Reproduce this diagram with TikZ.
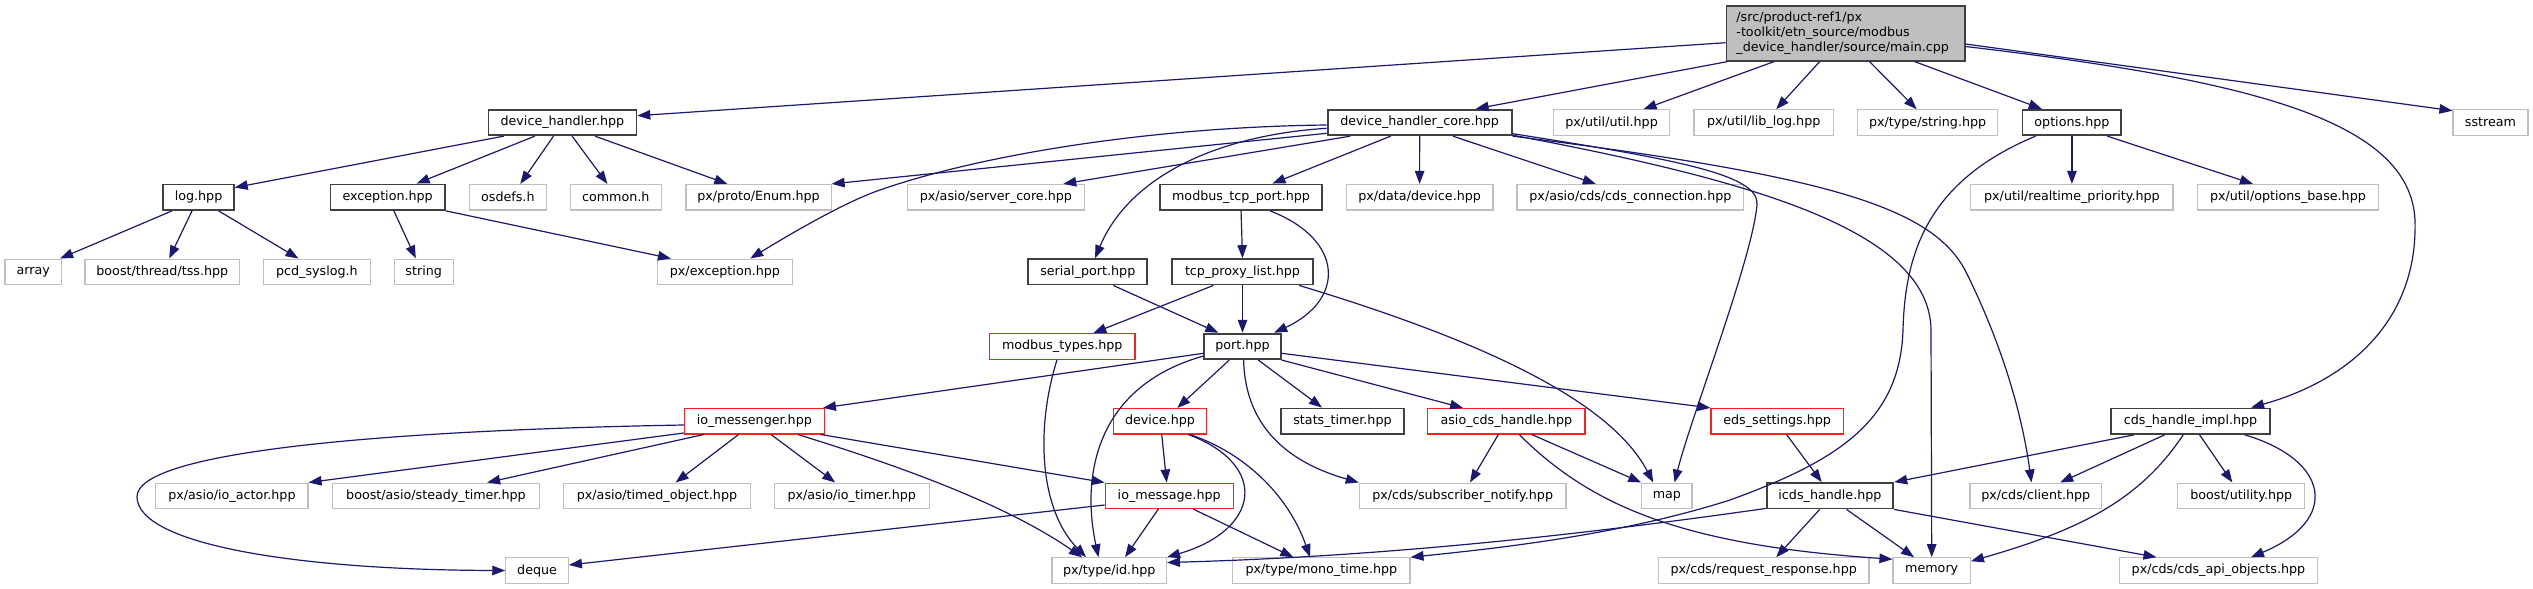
\documentclass[tikz,border=0pt]{standalone}
\usepackage{fontspec}
\setmainfont{DejaVu Sans}
\usetikzlibrary{arrows.meta}
\definecolor{edgeblue}{HTML}{191970}
\definecolor{docgray}{HTML}{BFBFBF}
\definecolor{docred}{HTML}{FF2020}
\definecolor{docblack}{HTML}{404040}
\newcommand\dxfont{\fontsize{12.7}{14.6}\selectfont}
\tikzset{
  base/.style={rectangle, minimum height=25.5pt, inner sep=0pt, font=\dxfont, fill=white, line width=1.1pt},
  blk/.style={base, draw=docblack, line width=1.8pt},
  gry/.style={base, draw=docgray},
  redb/.style={base, draw=docred},
  e/.style={draw=edgeblue, line width=1.2pt, -{Triangle[length=13pt,width=9.5pt]}},
}
\begin{document}
\begin{tikzpicture}[x=1pt,y=-1pt]
\fill[white] (0,0) rectangle (2533,589);
\useasboundingbox (0,0) rectangle (2533,589);
% row 0
\node[base, draw=docblack, fill=docgray, line width=1.8pt, minimum width=238.2pt, minimum height=55pt, text width=218.2pt, align=left, inner xsep=10pt] (main) at (1845.5,33.2) {/src/product-ref1/px\\-toolkit/etn\_source/modbus\\\_device\_handler/source/main.cpp};
% row 1
\node[blk, minimum width=148pt] (dh) at (562.4,122.5) {device\_handler.hpp};
\node[blk, minimum width=184.1pt] (dhc) at (1419.65,122.5) {device\_handler\_core.hpp};
\node[gry, minimum width=116.1pt] (util) at (1611.55,122.5) {px/util/util.hpp};
\node[gry, minimum width=139.4pt] (liblog) at (1763.7,122.5) {px/util/lib\_log.hpp};
\node[gry, minimum width=140.4pt] (tstring) at (1927.6,122.5) {px/type/string.hpp};
\node[blk, minimum width=98.8pt] (options) at (2071.9,122.5) {options.hpp};
\node[gry, minimum width=75pt] (sstream) at (2490.5,122.5) {sstream};
% row 2
\node[blk, minimum width=70.5pt] (log) at (198.55,197.2) {log.hpp};
\node[blk, minimum width=114.5pt] (exc) at (387.65,197.2) {exception.hpp};
\node[gry, minimum width=77.1pt] (osdefs) at (507.85,197.2) {osdefs.h};
\node[gry, minimum width=90.6pt] (common) at (615.8,197.2) {common.h};
\node[gry, minimum width=145.1pt] (enum) at (758.55,197.2) {px/proto/Enum.hpp};
\node[gry, minimum width=177pt] (servercore) at (995.9,197.2) {px/asio/server\_core.hpp};
\node[blk, minimum width=162.3pt] (mtcp) at (1241.05,197.2) {modbus\_tcp\_port.hpp};
\node[gry, minimum width=146.8pt] (datadev) at (1419.6,197.2) {px/data/device.hpp};
\node[gry, minimum width=226.8pt] (cdsconn) at (1630.4,197.2) {px/asio/cds/cds\_connection.hpp};
\node[gry, minimum width=202.2pt] (rtprio) at (2071.9,197.2) {px/util/realtime\_priority.hpp};
\node[gry, minimum width=180.9pt] (optbase) at (2287.95,197.2) {px/util/options\_base.hpp};
% row 3
\node[gry, minimum width=56.4pt] (array) at (33.2,271.8) {array};
\node[gry, minimum width=154.6pt] (tss) at (162.3,271.8) {boost/thread/tss.hpp};
\node[gry, minimum width=106.5pt] (syslog) at (316.95,271.8) {pcd\_syslog.h};
\node[gry, minimum width=58.8pt] (string) at (423.7,271.8) {string};
\node[gry, minimum width=134.3pt] (pxexc) at (724.95,271.8) {px/exception.hpp};
\node[blk, minimum width=119pt] (serial) at (1087.8,271.8) {serial\_port.hpp};
\node[blk, minimum width=141.6pt] (tcpproxy) at (1242.5,271.8) {tcp\_proxy\_list.hpp};
% row 4
\node[redb, minimum width=145.5pt] (mtypes) at (1062.25,346.4) {modbus\_types.hpp};
\node[blk, minimum width=76.4pt] (port) at (1242.5,346.4) {port.hpp};
% row 5
\node[redb, minimum width=140.1pt] (iomsgr) at (754.35,421.2) {io\_messenger.hpp};
\node[redb, minimum width=93.1pt] (device) at (1159.95,421.2) {device.hpp};
\node[blk, minimum width=123pt] (stats) at (1342.5,421.2) {stats\_timer.hpp};
\node[redb, minimum width=157.3pt] (asiocds) at (1506.35,421.2) {asio\_cds\_handle.hpp};
\node[redb, minimum width=132.3pt] (eds) at (1777.15,421.2) {eds\_settings.hpp};
\node[blk, minimum width=159.1pt] (cdsimpl) at (2190.55,421.2) {cds\_handle\_impl.hpp};
% row 6
\node[gry, minimum width=152.1pt] (ioactor) at (231.95,495.8) {px/asio/io\_actor.hpp};
\node[gry, minimum width=206.9pt] (steady) at (435.95,495.8) {boost/asio/steady\_timer.hpp};
\node[gry, minimum width=186.4pt] (timedobj) at (657,495.8) {px/asio/timed\_object.hpp};
\node[gry, minimum width=155pt] (iotimer) at (851.8,495.8) {px/asio/io\_timer.hpp};
\node[redb, minimum width=128.2pt] (iomsg) at (1169.2,495.8) {io\_message.hpp};
\node[gry, minimum width=206.7pt] (subnot) at (1462.65,495.8) {px/cds/subscriber\_notify.hpp};
\node[gry, minimum width=50.2pt] (map) at (1666.9,495.8) {map};
\node[blk, minimum width=126.7pt] (icds) at (1829.95,495.8) {icds\_handle.hpp};
\node[gry, minimum width=131.6pt] (client) at (2035.8,495.8) {px/cds/client.hpp};
\node[gry, minimum width=126.7pt] (butil) at (2241.25,495.8) {boost/utility.hpp};
% row 7
\node[gry, minimum width=62.6pt] (deque) at (537.1,570.5) {deque};
\node[gry, minimum width=114.5pt] (id) at (1109.25,570.5) {px/type/id.hpp};
\node[gry, minimum width=177.3pt] (mono) at (1321.35,570.5) {px/type/mono\_time.hpp};
\node[gry, minimum width=210.6pt] (reqresp) at (1763.7,570.5) {px/cds/request\_response.hpp};
\node[gry, minimum width=77.4pt] (memory) at (1931.7,570.5) {memory};
\node[gry, minimum width=198.5pt] (apiobj) at (2218.45,570.5) {px/cds/cds\_api\_objects.hpp};

% ---- edges from main
\draw[e] ([yshift=-9.5pt]main.west) -- ([yshift=6.8pt]dh.east);
\draw[e] ([xshift=2pt]main.south west) -- ([xshift=56pt]dhc.north);
\draw[e] ([xshift=-71.5pt]main.south) -- ([xshift=32pt]util.north);
\draw[e] ([xshift=-25.8pt]main.south) -- ([xshift=12.5pt]liblog.north);
\draw[e] ([xshift=24pt]main.south) -- ([xshift=-10.9pt]tstring.north);
\draw[e] ([xshift=69.1pt]main.south) -- ([xshift=-30.2pt]options.north);
\draw[e] ([yshift=-10.8pt]main.east) -- ([yshift=-1.5pt]sstream.north west);
\draw[e] ([yshift=-13.3pt]main.east) .. controls (2250,80) and (2410,120) .. (2415,220) .. controls (2418,320) and (2350,380) .. ([xshift=60.5pt]cdsimpl.north);
% ---- device_handler
\draw[e] ([xshift=-58.7pt]dh.south) -- ([yshift=-4pt]log.north east);
\draw[e] ([xshift=-27.6pt]dh.south) -- ([xshift=29pt]exc.north);
\draw[e] ([xshift=-8.9pt]dh.south) -- ([xshift=12.5pt]osdefs.north);
\draw[e] ([xshift=9.7pt]dh.south) -- ([xshift=-8.4pt]common.north);
\draw[e] ([xshift=32.6pt]dh.south) -- ([xshift=-31.2pt]enum.north);
% ---- device_handler_core
\draw[e] ([yshift=-10.8pt]dhc.west) -- (enum.north east);
\draw[e] ([yshift=-2.5pt]dhc.west) .. controls (1150,127) and (980,155) .. (880,190) .. controls (850,200) and (800,228) .. ([xshift=25.3pt]pxexc.north);
\draw[e] ([xshift=23.6pt]dhc.south west) -- ([xshift=67.3pt]servercore.north);
\draw[e] ([yshift=-5.8pt]dhc.west) .. controls (1220,135) and (1130,175) .. ([xshift=7.2pt]serial.north);
\draw[e] ([xshift=-29pt]dhc.south) -- ([xshift=31.4pt]mtcp.north);
\draw[e] (dhc.south) -- (datadev.north);
\draw[e] ([xshift=33.2pt]dhc.south) -- ([xshift=-34.6pt]cdsconn.north);
\draw[e] ([yshift=2.5pt]dhc.south east) .. controls (1680,160) and (1760,175) .. (1757,205) .. controls (1752,260) and (1690,420) .. ([xshift=7.7pt]map.north);
\draw[e] ([yshift=1pt]dhc.south east) .. controls (1750,180) and (1930,230) .. (1931,330) -- (memory.north);
\draw[e] (dhc.south east) .. controls (1820,175) and (1930,205) .. (1965,270) .. controls (1995,330) and (2020,400) .. ([xshift=-4.3pt]client.north);
% ---- options
\draw[e] (options.south) -- (rtprio.north);
\draw[e] ([xshift=35.4pt]options.south) -- ([xshift=-35pt]optbase.north);
\draw[e] ([xshift=-36.3pt]options.south) .. controls (1930,180) and (1905,250) .. (1903,330) .. controls (1900,420) and (1840,460) .. (1730,500) .. controls (1620,535) and (1500,548) .. (mono.north east);
% ---- log, exception
\draw[e] ([xshift=-26.5pt]log.south) -- ([xshift=26.9pt]array.north);
\draw[e] ([xshift=-6.5pt]log.south) -- ([xshift=6.9pt]tss.north);
\draw[e] ([xshift=20pt]log.south) -- ([xshift=-18.5pt]syslog.north);
\draw[e] ([xshift=6.2pt]exc.south) -- ([xshift=-7.9pt]string.north);
\draw[e] (exc.south east) -- ([xshift=13.7pt]pxexc.north west);
% ---- modbus_tcp_port, serial, tcp_proxy_list
\draw[e] (mtcp.south) -- (tcpproxy.north);
\draw[e] ([xshift=29pt]mtcp.south) .. controls (1345,240) and (1345,300) .. ([xshift=-7.4pt]port.north east);
\draw[e] ([xshift=25.5pt]serial.south) -- ([xshift=-24.2pt]port.north);
\draw[e] ([xshift=-29.2pt]tcpproxy.south) -- ([xshift=31pt]mtypes.north);
\draw[e] (tcpproxy.south) -- (port.north);
\draw[e] ([xshift=-15pt]tcpproxy.south east) .. controls (1480,340) and (1610,400) .. ([xshift=12pt]map.north west);
% ---- modbus_types
\draw[e] ([xshift=-5.2pt]mtypes.south) .. controls (1035,430) and (1040,510) .. ([xshift=-23.2pt]id.north);
% ---- port
\draw[e] ([yshift=-6.9pt]port.west) -- ([xshift=-2pt]iomsgr.north east);
\draw[e] ([yshift=4pt]port.south west) .. controls (1100,385) and (1080,470) .. ([xshift=-10.8pt]id.north);
\draw[e] ([xshift=-13.2pt]port.south) -- ([xshift=17.4pt]device.north);
\draw[e] ([xshift=1.1pt]port.south) .. controls (1245,420) and (1280,460) .. (subnot.north west);
\draw[e] ([xshift=15.8pt]port.south) -- ([xshift=-20.5pt]stats.north);
\draw[e] (port.south east) -- ([xshift=-43.3pt]asiocds.north);
\draw[e] ([yshift=-6.9pt]port.east) -- (eds.north west);
% ---- device
\draw[e] ([xshift=1.75pt]device.south) -- ([xshift=-2.5pt]iomsg.north);
\draw[e] ([xshift=28.3pt]device.south) .. controls (1270,465) and (1260,530) .. (id.north east);
\draw[e] ([xshift=30pt]device.south) .. controls (1250,455) and (1290,500) .. ([xshift=-11.3pt]mono.north);
% ---- io_messenger
\draw[e] ([yshift=-3.8pt]iomsgr.west) .. controls (400,430) and (136,450) .. (137,497) .. controls (138,545) and (300,570) .. (deque.west);
\draw[e] ([yshift=1.5pt]iomsgr.south west) -- (ioactor.north east);
\draw[e] ([xshift=-50.5pt]iomsgr.south) -- ([xshift=51.2pt]steady.north);
\draw[e] ([xshift=-15.8pt]iomsgr.south) -- ([xshift=18.6pt]timedobj.north);
\draw[e] ([xshift=16.7pt]iomsgr.south) -- ([xshift=-16.6pt]iotimer.north);
\draw[e] ([xshift=43.5pt]iomsgr.south) .. controls (880,460) and (1000,500) .. ([xshift=-27.3pt]id.north);
\draw[e] ([xshift=66.3pt]iomsgr.south) -- (iomsg.north west);
% ---- io_message
\draw[e] ([yshift=-9.2pt]iomsg.west) -- ([yshift=5.5pt]deque.east);
\draw[e] ([xshift=-10.9pt]iomsg.south) -- ([xshift=15.75pt]id.north);
\draw[e] ([xshift=24.1pt]iomsg.south) -- ([xshift=-28pt]mono.north);
% ---- asio_cds_handle
\draw[e] ([xshift=-8pt]asiocds.south) -- ([xshift=7.4pt]subnot.north);
\draw[e] ([xshift=25.3pt]asiocds.south) -- (map.north west);
\draw[e] ([xshift=12.8pt]asiocds.south) .. controls (1590,505) and (1680,545) .. ([yshift=-2pt]memory.north west);
% ---- eds_settings
\draw[e] ([xshift=9.4pt]eds.south) -- ([xshift=-8.2pt]icds.north);
% ---- cds_handle_impl
\draw[e] ([xshift=-56.6pt]cdsimpl.south) -- (icds.north east);
\draw[e] ([xshift=-25.9pt]cdsimpl.south) -- ([xshift=24.4pt]client.north);
\draw[e] ([xshift=-7.4pt]cdsimpl.south) .. controls (2140,500) and (2080,530) .. ([yshift=-4pt]memory.north east);
\draw[e] ([xshift=9pt]cdsimpl.south) -- ([xshift=-8.9pt]butil.north);
\draw[e] ([xshift=54.1pt]cdsimpl.south) .. controls (2330,460) and (2340,520) .. ([xshift=32.5pt]apiobj.north);
% ---- icds_handle
\draw[e] ([yshift=1pt]icds.south west) .. controls (1600,532) and (1400,556) .. ([yshift=8pt]id.east);
\draw[e] ([xshift=-10.3pt]icds.south) -- ([xshift=12.5pt]reqresp.north);
\draw[e] ([xshift=16.6pt]icds.south) -- ([xshift=21.6pt]memory.north west);
\draw[e] (icds.south east) -- ([xshift=-62pt]apiobj.north);
\end{tikzpicture}
\end{document}
